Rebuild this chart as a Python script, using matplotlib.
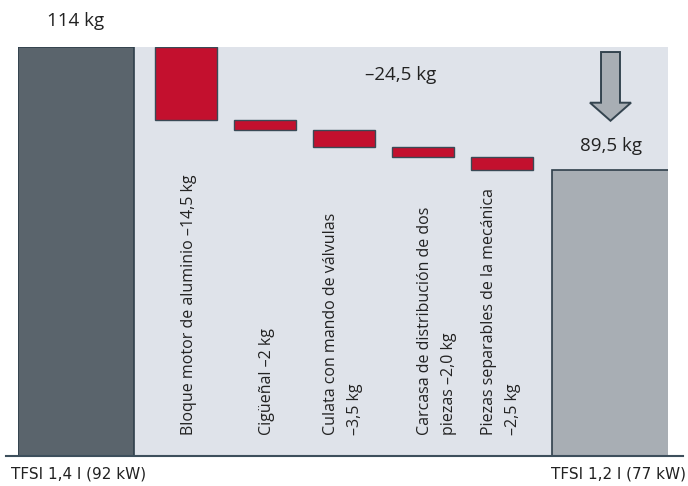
import matplotlib
matplotlib.use("Agg")
import matplotlib.pyplot as plt

# data
start_label = "114 kg"
end_label = "89,5 kg"
total_label = "–24,5 kg"
start_value = 114.0
end_value = 89.5
savings = [14.5, 2.0, 3.5, 2.0, 2.5]
step_labels = [
    "Bloque motor de aluminio –14,5 kg",
    "Cigüeñal –2 kg",
    "Culata con mando de válvulas\n–3,5 kg",
    "Carcasa de distribución de dos\npiezas –2,0 kg",
    "Piezas separables de la mecánica\n–2,5 kg",
]
engine_labels = ["TFSI 1,4 l (92 kW)", "TFSI 1,2 l (77 kW)"]

# layout
big_pos = [0.73, 7.5]
big_w = 1.47
step_pos = [2.13, 3.13, 4.13, 5.13, 6.13]
step_w = 0.79
label_x = [2.16, 3.15, 4.11, 5.30, 6.11]
ymin = 32.5

bg = "#dfe3ea"
dark = "#5a646c"
edge = "#2f3f4b"
red = "#c3102e"
light = "#a8aeb4"
txt = "#222222"

plt.rcParams['font.family'] = ['Open Sans', 'DejaVu Sans']

fig = plt.figure(figsize=(6.88, 4.86), dpi=100)
ax = fig.add_axes([18/688, 30/486, 650/688, 409/486])
ax.set_facecolor(bg)
ax.set_xlim(0, 650/79)
ax.set_ylim(ymin, start_value)

ax.bar(big_pos[0], start_value - ymin, bottom=ymin, width=big_w,
       color=dark, edgecolor=edge, linewidth=1.2, zorder=2)
ax.bar(big_pos[1], end_value - ymin, bottom=ymin, width=big_w,
       color=light, edgecolor=edge, linewidth=1.2, zorder=2)

level = start_value
for x, s in zip(step_pos, savings):
    ax.bar(x, s, bottom=level - s, width=step_w, color=red,
           edgecolor="#3a4a56", linewidth=1.0, zorder=2)
    level -= s

for x, lab in zip(label_x, step_labels):
    ax.text(x, 36.7, lab, rotation=90, ha="center", va="bottom",
            multialignment="left", fontsize=11.5, color=txt,
            linespacing=1.65, zorder=3)

ax.text(big_pos[0], 119.1, start_label, ha="center", va="center",
        fontsize=13.5, color=txt, clip_on=False)
ax.text(big_pos[1], 94.3, end_label, ha="center", va="center",
        fontsize=13.5, color=txt)
ax.text(4.84, 108.4, total_label, ha="center", va="center",
        fontsize=13.5, color=txt)

# arrow down to the new weight
ax.arrow(big_pos[1], 113.0, 0, 99.3 - 113.0, width=0.24, head_width=0.52,
         head_length=3.6, length_includes_head=True,
         facecolor=light, edgecolor="#34444f", linewidth=1.4, zorder=3)

for s in ax.spines.values():
    s.set_visible(False)
ax.set_xticks([])
ax.set_yticks([])

# baseline running past the plot area
ax.plot([-12/79, 665/79], [ymin, ymin], color="#3d4f5c", linewidth=1.5,
        clip_on=False, zorder=4)

fig.text(11/688, 1 - 474/486, engine_labels[0], ha="left", va="center",
         fontsize=11, color=txt, family=['Liberation Sans Narrow', 'DejaVu Sans'])
fig.text(686/688, 1 - 474/486, engine_labels[1], ha="right", va="center",
         fontsize=11, color=txt, family=['Liberation Sans Narrow', 'DejaVu Sans'])

fig.savefig("out.png", dpi=100)
